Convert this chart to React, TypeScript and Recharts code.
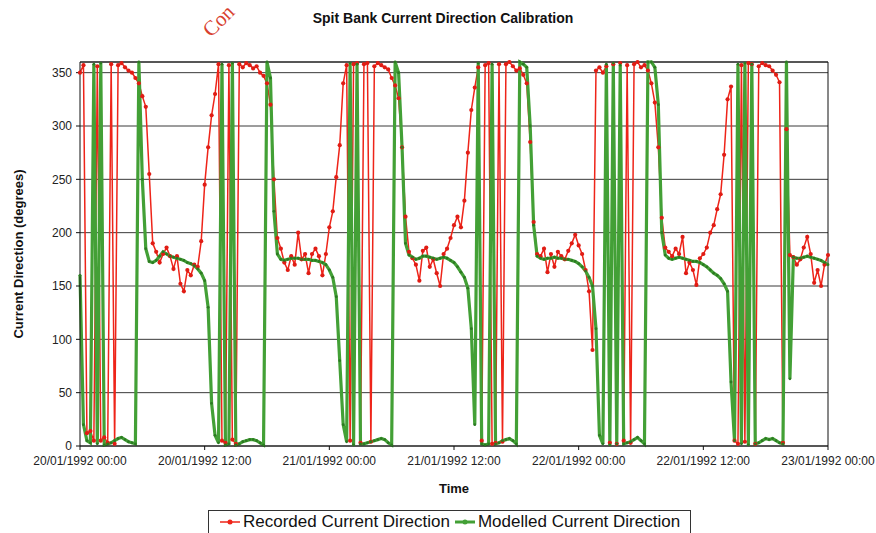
import {
  CartesianGrid,
  Line,
  LineChart,
  ReferenceLine,
  XAxis,
  YAxis,
} from 'recharts';

// 20 minute samples from 20/01/1992 00:00 to 23/01/1992 00:00
const STEP_HOURS = 1 / 3;

const recorded = [
  350, 357, 12, 14, 5, 356, 5, 8, 3, 358, 2, 357, 359, 355, 352, 350, 345, 340, 328, 318,
  255, 190, 182, 172, 180, 186, 178, 166, 178, 152, 145, 165, 160, 170, 168, 192, 245, 280, 310, 330,
  358, 5, 3, 357, 6, 2, 358, 355, 359, 357, 354, 356, 350, 347, 340, 320, 250, 195, 185, 172,
  165, 178, 170, 200, 175, 180, 162, 180, 185, 178, 160, 180, 205, 220, 252, 282, 340, 357, 5, 358,
  359, 3, 358, 359, 4, 356, 359, 357, 355, 353, 345, 338, 326, 280, 215, 182, 176, 170, 155, 183,
  186, 168, 175, 162, 150, 180, 185, 195, 207, 215, 205, 230, 275, 315, 336, 355, 5, 357, 359, 2,
  3, 358, 4, 358, 360, 356, 352, 354, 348, 340, 285, 210, 180, 178, 185, 163, 180, 168, 182, 178,
  175, 183, 190, 198, 188, 180, 165, 145, 90, 352, 355, 350, 356, 3, 358, 2, 359, 5, 357, 3,
  358, 360, 355, 357, 352, 340, 322, 280, 214, 186, 182, 178, 185, 180, 196, 162, 172, 165, 151, 176,
  180, 186, 200, 207, 222, 236, 273, 325, 337, 5, 2, 357, 4, 359, 358, 2, 356, 359, 357, 356,
  352, 348, 341, 3, 297, 179, 177, 170, 175, 186, 196, 180, 153, 165, 150, 170, 179,
];

const modelled = [
  160, 20, 5, 3, 358, 2, 359, 1, 2, 3, 5, 7, 8, 6, 4, 3, 2, 360, 250, 185,
  173, 172, 174, 178, 182, 180, 178, 177, 176, 175, 174, 172, 171, 169, 166, 162, 155, 130, 40, 10,
  3, 358, 1, 2, 359, 1, 2, 4, 5, 6, 6, 5, 3, 1, 360, 345, 220, 180, 175, 174,
  175, 176, 176, 176, 175, 175, 175, 174, 174, 173, 172, 170, 165, 158, 140, 80, 20, 4, 359, 1,
  358, 2, 2, 3, 4, 5, 6, 7, 6, 3, 1, 360, 350, 280, 190, 179, 177, 175, 176, 178,
  178, 177, 176, 175, 176, 177, 176, 174, 172, 168, 163, 158, 148, 110, 20, 359, 2, 1, 2, 358,
  2, 3, 5, 6, 7, 5, 2, 360, 358, 355, 300, 207, 178, 176, 175, 176, 176, 177, 176, 176,
  175, 175, 174, 173, 171, 168, 164, 158, 150, 110, 10, 2, 358, 1, 359, 2, 357, 2, 3, 4,
  6, 8, 5, 2, 360, 360, 355, 320, 200, 179, 176, 175, 176, 177, 176, 175, 174, 173, 173, 172,
  170, 168, 165, 162, 160, 157, 152, 145, 60, 5, 358, 2, 359, 1, 358, 2, 3, 5, 7, 6,
  7, 5, 3, 2, 360, 63, 177, 176, 176, 177, 178, 177, 176, 175, 174, 172, 170,
];

const tickHours = [0, 12, 24, 36, 48, 60, 72];
const tickLabels = [
  '20/01/1992 00:00',
  '20/01/1992 12:00',
  '21/01/1992 00:00',
  '21/01/1992 12:00',
  '22/01/1992 00:00',
  '22/01/1992 12:00',
  '23/01/1992 00:00',
];
const yTicks = [0, 50, 100, 150, 200, 250, 300, 350];

const SERIES = [
  { key: 'recorded', name: 'Recorded Current Direction', color: '#ee2419' },
  { key: 'modelled', name: 'Modelled Current Direction', color: '#43a036' },
];

const chartData = recorded.map((value, i) => ({
  t: i * STEP_HOURS,
  recorded: value,
  modelled: modelled[i],
}));

const FONT = '"Liberation Sans", Arial, sans-serif';

function LegendIcon({ color, width }: { color: string; width: number }) {
  return (
    <svg width={22} height={12} style={{ marginRight: 2 }}>
      <line x1={1} y1={6} x2={21} y2={6} stroke={color} strokeWidth={width} />
      <circle cx={11} cy={6} r={2.5} fill={color} />
    </svg>
  );
}

export default function App() {
  return (
    <div
      style={{
        position: 'absolute',
        left: 0,
        top: 0,
        width: 876,
        height: 533,
        overflow: 'hidden',
        background: '#fff',
        fontFamily: FONT,
      }}
    >
      <svg
        width={876}
        height={60}
        style={{ position: 'absolute', left: 0, top: 0 }}
      >
        <text
          x={211}
          y={38}
          transform="rotate(-45 211 38)"
          fill="#d8402e"
          fontFamily='"Liberation Serif", "DejaVu Serif", serif'
          fontSize={21}
        >
          Con
        </text>
        <text
          x={443}
          y={23}
          textAnchor="middle"
          fontFamily={FONT}
          fontWeight="bold"
          fontSize={14}
          fill="#111"
        >
          Spit Bank Current Direction Calibration
        </text>
      </svg>

      <div style={{ position: 'absolute', left: 0, top: 0 }}>
        <LineChart
          width={876}
          height={533}
          data={chartData}
          margin={{ top: 62, right: 48, bottom: 37, left: 0 }}
        >
          <CartesianGrid vertical={false} stroke="#3a3a3a" />
          <XAxis
            dataKey="t"
            type="number"
            domain={[0, 72]}
            ticks={tickHours}
            tickFormatter={(v: number) => tickLabels[tickHours.indexOf(v)] ?? ''}
            height={50}
            tickSize={4}
            tickMargin={6}
            stroke="#111"
            tick={{ fontSize: 12, fill: '#222', fontFamily: FONT }}
            interval={0}
            label={{
              value: 'Time',
              position: 'insideBottom',
              offset: 3,
              style: { fontSize: 13, fontWeight: 'bold', fill: '#111', fontFamily: FONT },
            }}
          />
          <YAxis
            type="number"
            domain={[0, 360]}
            ticks={yTicks}
            width={80}
            tickSize={4}
            tickMargin={4}
            stroke="#111"
            interval={0}
            tick={{ fontSize: 12, fill: '#222', fontFamily: FONT }}
            label={{
              value: 'Current Direction (degrees)',
              angle: -90,
              position: 'insideLeft',
              offset: 18,
              style: {
                textAnchor: 'middle',
                fontSize: 13,
                fontWeight: 'bold',
                fill: '#111',
                fontFamily: FONT,
              },
            }}
          />
          <ReferenceLine y={360} stroke="#111" />
          <ReferenceLine x={72} stroke="#111" />
          <Line
            type="linear"
            dataKey="recorded"
            name={SERIES[0].name}
            stroke={SERIES[0].color}
            strokeWidth={1.5}
            dot={{ r: 2.1, fill: '#e01c14', stroke: 'none' }}
            isAnimationActive={false}
          />
          <Line
            type="linear"
            dataKey="modelled"
            name={SERIES[1].name}
            stroke={SERIES[1].color}
            strokeWidth={3.2}
            dot={{ r: 1.4, fill: '#2c7a22', stroke: 'none' }}
            isAnimationActive={false}
          />
        </LineChart>
      </div>

      <div
        style={{
          position: 'absolute',
          left: 208,
          top: 510,
          width: 483,
          height: 24,
          border: '1px solid #333',
          display: 'flex',
          alignItems: 'center',
          fontSize: 17,
          color: '#111',
          paddingLeft: 10,
          boxSizing: 'border-box',
          whiteSpace: 'nowrap',
        }}
      >
        <LegendIcon color={SERIES[0].color} width={1.5} />
        <span style={{ marginRight: 4 }}>{SERIES[0].name}</span>
        <LegendIcon color={SERIES[1].color} width={3} />
        <span>{SERIES[1].name}</span>
      </div>
    </div>
  );
}
